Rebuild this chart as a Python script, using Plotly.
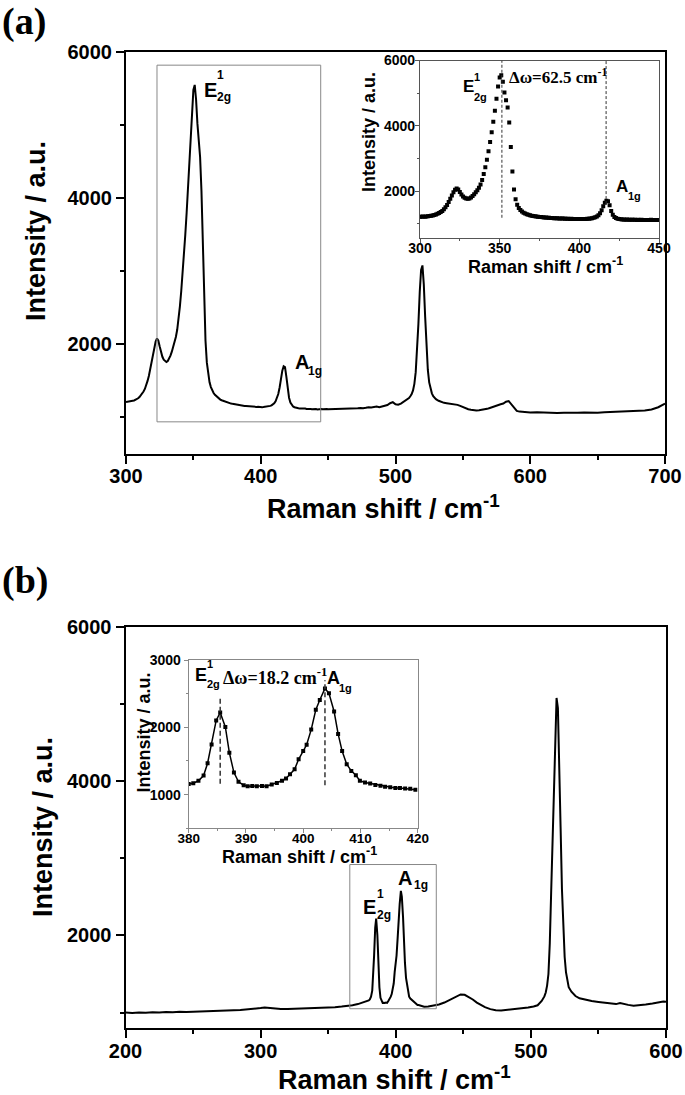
import plotly.graph_objects as go

SANS = "Liberation Sans, Arial, sans-serif"
SERIF = "Liberation Serif, Times New Roman, serif"
W, H = 685, 1095

# ── Panel (a): Raman spectrum, 300-450 cm-1 read at 1 cm-1 steps ───────────
a_x_low = list(range(300, 451))
a_y_low = [
    1210, 1212, 1218, 1215, 1222, 1228, 1232, 1240, 1248, 1262,
    1280, 1300, 1325, 1355, 1390, 1440, 1500, 1570, 1660, 1760,
    1860, 1960, 2040, 2080, 2050, 1970, 1890, 1830, 1790, 1770,
    1760, 1772, 1800, 1845, 1900, 1960, 2020, 2100, 2200, 2340,
    2520, 2730, 2960, 3220, 3500, 3800, 4120, 4460, 4830, 5200,
    5480, 5550, 5350, 5020, 4780, 4560, 4100, 3350, 2600, 2050,
    1750, 1580, 1480, 1415, 1370, 1335, 1310, 1290, 1272, 1258,
    1245, 1236, 1228, 1220, 1212, 1206, 1200, 1194, 1190, 1186,
    1182, 1178, 1175, 1170, 1168, 1166, 1163, 1160, 1158, 1157,
    1155, 1150, 1152, 1148, 1146, 1150, 1145, 1144, 1146, 1142,
    1145, 1140, 1142, 1145, 1143, 1148, 1152, 1158, 1166, 1178,
    1195, 1220, 1260, 1320, 1410, 1530, 1640, 1700, 1690, 1560,
    1390, 1270, 1205, 1170, 1150, 1140, 1132, 1128, 1125, 1122,
    1124, 1120, 1118, 1121, 1116, 1118, 1114, 1117, 1113, 1116,
    1112, 1115, 1110, 1114, 1111, 1116, 1112, 1115, 1110, 1114,
    1112,
]
a_x_high = [
    452, 454, 456, 458, 460, 462, 464, 466, 468, 470, 472, 474, 476, 478,
    480, 482, 484, 486, 488, 490, 492, 494, 496, 498, 500, 502, 504, 506,
    508, 510, 511, 512, 513, 514, 515, 516, 517, 518, 519, 520, 521, 522,
    523, 524, 525, 526, 527, 528, 530, 532, 534, 536, 538, 540, 542, 544,
    546, 548, 550, 552, 554, 556, 558, 560, 562, 564, 566, 568, 570, 572,
    574, 576, 578, 580, 582, 584, 586, 588, 590, 592, 594, 596, 598, 600,
    605, 610, 615, 620, 625, 630, 635, 640, 645, 650, 655, 660, 665, 670,
    675, 680, 685, 690, 695, 700,
]
a_y_high = [
    1113, 1110, 1114, 1112, 1118, 1115, 1120, 1118, 1124, 1120, 1126, 1130,
    1125, 1132, 1140, 1135, 1142, 1148, 1140, 1150, 1158, 1170, 1195, 1210,
    1180, 1175, 1190, 1215, 1240, 1265, 1290, 1320, 1370, 1460, 1620, 1900,
    2280, 2720, 3020, 3080, 2820, 2380, 1950, 1650, 1480, 1390, 1330, 1290,
    1250, 1228, 1212, 1200, 1195, 1190, 1185, 1180, 1172, 1158, 1140, 1125,
    1112, 1105, 1098, 1096, 1100, 1104, 1110, 1118, 1130, 1145, 1160, 1172,
    1180, 1190, 1215, 1225, 1180, 1120, 1090, 1080, 1075, 1072, 1070, 1068,
    1070, 1065, 1068, 1062, 1066, 1060, 1064, 1068, 1062, 1066, 1070, 1074,
    1078, 1082, 1085, 1088, 1095, 1110, 1140, 1190,
]

# ── Panel (b): Raman spectrum 200-600 cm-1, inset part read separately ──────
b_x_low = [
    200, 205, 210, 215, 220, 225, 230, 235, 240, 245, 250, 255, 260, 265,
    270, 275, 280, 285, 290, 295, 300, 303, 306, 310, 315, 320, 325, 330,
    335, 340, 345, 350, 355, 360, 364, 368, 372, 375, 378,
]
b_y_low = [
    1000, 995, 1002, 998, 1005, 1000, 1008, 1003, 1010, 1006, 1012, 1015,
    1010, 1020, 1018, 1025, 1030, 1035, 1040, 1048, 1058, 1065, 1060, 1052,
    1045, 1048, 1050, 1052, 1055, 1058, 1062, 1065, 1070, 1078, 1085, 1095,
    1110, 1125, 1145,
]
ins_b_x = [
    380.0, 380.8, 381.7, 382.6, 383.3, 384.0, 384.8, 385.5, 386.4, 387.1,
    387.9, 388.7, 389.6, 390.3, 391.1, 391.9, 392.8, 393.6, 394.5, 395.4,
    396.3, 397.0, 397.7, 398.5, 399.2, 400.0, 400.6, 401.4, 402.2, 402.9,
    403.8, 404.5, 405.4, 406.1, 406.8, 407.6, 408.4, 409.2, 409.9, 410.8,
    411.7, 412.6, 413.5, 414.3, 415.2, 416.1, 416.9, 417.8, 418.7, 419.6,
]
ins_b_y = [
    1157, 1170, 1206, 1284, 1466, 1745, 2103, 2220, 2005, 1623,
    1328, 1191, 1140, 1125, 1128, 1124, 1130, 1126, 1150, 1172,
    1206, 1240, 1304, 1377, 1525, 1647, 1740, 1966, 2260, 2407,
    2578, 2505, 2235, 1902, 1647, 1451, 1353, 1289, 1206, 1181,
    1167, 1142, 1132, 1118, 1108, 1098, 1098, 1093, 1088, 1074,
]
b_x_high = [
    421, 424, 428, 432, 436, 440, 444, 448, 451, 454, 457, 460, 463, 466,
    470, 474, 478, 482, 486, 490, 494, 498, 502, 505, 508, 510, 511, 512,
    513, 514, 515, 516, 517, 518, 519, 520, 521, 522, 523, 524, 525, 526,
    527, 528, 530, 533, 536, 540, 545, 550, 555, 560, 563, 566, 569, 572,
    576, 580, 585, 590, 594, 596, 598, 600,
]
b_y_high = [
    1075, 1080, 1090, 1105, 1130, 1165, 1205, 1235, 1230, 1205, 1170, 1130,
    1095, 1070, 1045, 1030, 1028, 1035, 1042, 1048, 1055, 1065, 1080, 1095,
    1150, 1210, 1260, 1350, 1500, 1900, 2550, 3250, 4000, 4650, 5080, 4950,
    4300, 3400, 2600, 2050, 1720, 1520, 1400, 1330, 1270, 1215, 1185, 1165,
    1150, 1138, 1128, 1118, 1110, 1125, 1108, 1100, 1090, 1095, 1105, 1118,
    1130, 1140, 1145, 1140,
]

# peak positions marked in the insets
ins_a_lines = [351.4, 416.8]
ins_a_line_lo = [1180, 1600]
ins_b_lines = [385.5, 403.8]
ins_b_line_lo = [1160, 1140]
ins_b_line_hi = [2440, 2700]


def px(x):
    return x / W


def py(y):
    return 1 - y / H


def _axis(domain, rng, dtick, minor, anchor, size, main=True, color="black",
          standoff=0):
    return dict(
        domain=domain, range=rng, dtick=dtick, tick0=0, anchor=anchor,
        showline=True, mirror=True, linecolor=color,
        linewidth=2 if main else 1.2,
        ticks="outside", ticklen=8 if main else 4, tickwidth=2 if main else 1.2,
        tickcolor=color, ticklabelstandoff=standoff,
        minor=dict(dtick=minor, ticks="outside", ticklen=4 if main else 2,
                   tickwidth=2 if main else 1.2, tickcolor=color),
        showgrid=False, zeroline=False, automargin=False,
        tickfont=dict(family=SANS, size=size, color="black", weight="bold"),
    )


fig = go.Figure()

# main (a)
fig.add_trace(go.Scatter(x=a_x_low + a_x_high, y=a_y_low + a_y_high,
                         mode="lines", line=dict(color="black", width=2),
                         xaxis="x", yaxis="y"))
# inset (a): same data, square markers
fig.add_trace(go.Scatter(x=a_x_low, y=a_y_low, mode="markers",
                         marker=dict(symbol="square", size=4, color="black"),
                         xaxis="x2", yaxis="y2"))
# main (b)
fig.add_trace(go.Scatter(x=b_x_low + ins_b_x + b_x_high,
                         y=b_y_low + ins_b_y + b_y_high,
                         mode="lines", line=dict(color="black", width=2),
                         xaxis="x3", yaxis="y3"))
# inset (b)
fig.add_trace(go.Scatter(x=ins_b_x, y=ins_b_y, mode="lines+markers",
                         line=dict(color="black", width=1.5),
                         marker=dict(symbol="square", size=4, color="black"),
                         xaxis="x4", yaxis="y4"))

fig.update_layout(
    width=W, height=H, showlegend=False,
    margin=dict(l=0, r=0, t=0, b=0),
    paper_bgcolor="white", plot_bgcolor="rgba(0,0,0,0)",
    xaxis=_axis([px(126), px(665)], [300, 700], 100, 50, "y", 20, standoff=-5),
    yaxis=_axis([py(454), py(52)], [500, 6000], 2000, 1000, "x", 20),
    xaxis2=_axis([px(420), px(659)], [300, 450], 50, 25, "y2", 14, False, "#555",
                 standoff=-7),
    yaxis2=_axis([py(238), py(60.5)], [560, 6000], 2000, 1000, "x2", 14, False,
                 "#555", standoff=-3),
    xaxis3=_axis([px(125.5), px(666)], [200, 600], 100, 50, "y3", 20, standoff=-4),
    yaxis3=_axis([py(1028), py(627)], [800, 6000], 2000, 1000, "x3", 20),
    xaxis4=_axis([px(188.7), px(417.7)], [380, 420], 10, 5, "y4", 13.5, False,
                 "#888", standoff=-7),
    yaxis4=_axis([py(828.3), py(660)], [500, 3000], 1000, 500, "x4", 14, False,
                 "#888"),
)

# zoom boxes in the main panels
fig.add_shape(type="rect", xref="x", yref="y", x0=323, x1=444.5, y0=940, y1=5820,
              line=dict(color="#888", width=1))
fig.add_shape(type="rect", xref="x3", yref="y3", x0=366, x1=430, y0=1050, y1=2920,
              line=dict(color="#888", width=1))

# dashed peak markers in the insets
for xv, lo in zip(ins_a_lines, ins_a_line_lo):
    fig.add_shape(type="line", xref="x2", yref="y2", x0=xv, x1=xv, y0=lo, y1=6000,
                  line=dict(color="#333", width=1, dash="3px,2px"))
for xv, lo, hi in zip(ins_b_lines, ins_b_line_lo, ins_b_line_hi):
    fig.add_shape(type="line", xref="x4", yref="y4", x0=xv, x1=xv, y0=lo, y1=hi,
                  line=dict(color="#333", width=1.5, dash="5px,3px"))


def note(text, x, y, ref, size, family=SANS, xanchor="left", angle=0):
    xr, yr = ref
    fig.add_annotation(text=text, x=x, y=y, xref=xr, yref=yr, showarrow=False,
                       xanchor=xanchor, yanchor="middle", textangle=angle,
                       font=dict(family=family, size=size, color="black",
                                 weight="bold"))


def mode_label(letter, sup, sub, x, y, ref, big, small, dx, dy_sup, dy_sub):
    note(letter, x, y, ref, big)
    if sup:
        note(sup, x + dx, y + dy_sup, ref, small)
    note(sub, x + dx, y + dy_sub, ref, small)


# main (a) labels
mode_label("E", "1", "2g", 356.4, 5479, ("x", "y"), 20, 12, 10.0, 200, -90)
mode_label("A", "", "1g", 423.7, 1753, ("x", "y"), 20, 12, 9.6, 0, -120)
# inset (a) labels
mode_label("E", "1", "2g", 325.7, 5198, ("x2", "y2"), 17, 11, 7.2, 290, -330)
mode_label("A", "", "1g", 421.5, 2135, ("x2", "y2"), 17, 11, 7.8, 0, -290)
note("Δω=62.5 cm<sup>-1</sup>", 354.6, 5520, ("x2", "y2"), 17, SERIF)
# main (b) labels
mode_label("E", "1", "2g", 374.3, 2370, ("x3", "y3"), 20, 12, 10.5, 165, -110)
mode_label("A", "", "1g", 400.2, 2744, ("x3", "y3"), 20, 12, 11.8, 0, -95)
# inset (b) labels
mode_label("E", "1", "2g", 380.8, 2779, ("x4", "y4"), 18, 11, 2.1, 155, -135)
mode_label("A", "", "1g", 403.8, 2731, ("x4", "y4"), 18, 11, 2.1, 0, -145)
note("Δω=18.2 cm<sup>-1</sup>", 385.6, 2760, ("x4", "y4"), 18, SERIF)

# axis titles
paper = ("paper", "paper")
note("Raman shift / cm<sup>-1</sup>", px(383), py(507), paper, 27, xanchor="center")
note("Intensity / a.u.", px(36), py(231), paper, 27, xanchor="center", angle=-90)
note("Raman shift / cm<sup>-1</sup>", px(545), py(266), paper, 18, xanchor="center")
note("Intensity / a.u.", px(369), py(132), paper, 18, xanchor="center", angle=-90)
note("Raman shift / cm<sup>-1</sup>", px(394), py(1078), paper, 27, xanchor="center")
note("Intensity / a.u.", px(43), py(827), paper, 27, xanchor="center", angle=-90)
note("Raman shift / cm<sup>-1</sup>", px(299), py(855), paper, 18, xanchor="center")
note("Intensity / a.u.", px(143.5), py(733), paper, 18, xanchor="center", angle=-90)

# panel letters
note("(a)", px(0), py(22), paper, 38, SERIF)
note("(b)", px(0), py(580), paper, 38, SERIF)

# the page's default 8px body margin would shift the whole figure
fig.write_html("out.html", config={"displayModeBar": False},
               post_script="document.body.style.margin='0';")
